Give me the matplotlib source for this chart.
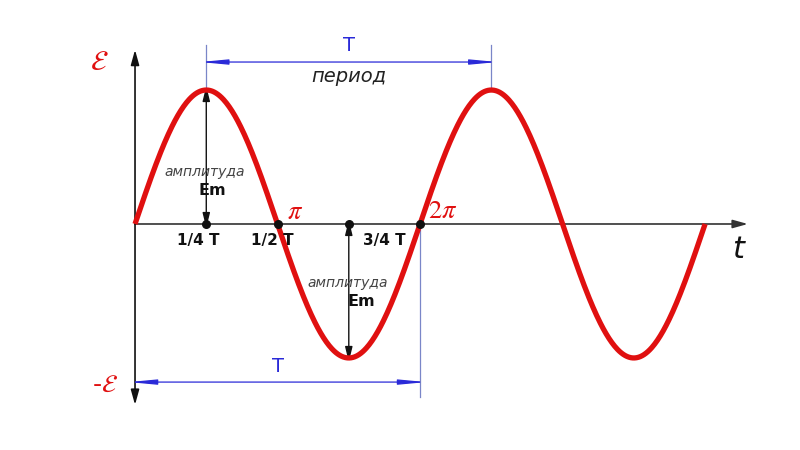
import numpy as np
import matplotlib
matplotlib.use("Agg")
import matplotlib.pyplot as plt

plt.rcParams["mathtext.fontset"] = "stix"

# curve in units of the period T and of the amplitude Em
t_start, t_end = 0.0, 2.0
amplitude = 1.0
marks_t = [0.25, 0.5, 0.75, 1.0]
mark_labels = ["1/4 T", "1/2 T", "3/4 T"]

t = np.linspace(t_start, t_end, 600)
e = amplitude * np.sin(2 * np.pi * t)

fig = plt.figure(figsize=(8, 4.5), dpi=100)
ax = fig.add_axes([0, 0, 1, 1])
ax.set_xlim(-0.4737, 2.333)
ax.set_ylim(-1.687, 1.672)
ax.axis("off")

red = "#e01010"
blue = "#2a2ad8"
lblue = "#7a86c8"
pad = 0.022  # arrow tips land a little short, push them out

# axes with arrows
ax.annotate("", xy=(2.15, 0), xytext=(0, 0),
            arrowprops=dict(arrowstyle="-|>,head_length=0.9,head_width=0.25",
                            color="#333333", lw=1.2, shrinkA=0, shrinkB=0))
ax.annotate("", xy=(0, 1.30), xytext=(0, 0),
            arrowprops=dict(arrowstyle="-|>,head_length=0.9,head_width=0.25",
                            color="#111111", lw=1.2, shrinkA=0, shrinkB=0))
ax.annotate("", xy=(0, -1.35), xytext=(0, 0),
            arrowprops=dict(arrowstyle="-|>,head_length=0.9,head_width=0.25",
                            color="#111111", lw=1.2, shrinkA=0, shrinkB=0))

# period dimension on top
ax.plot([0.25, 0.25], [1.0, 1.336], color=lblue, lw=0.9)
ax.plot([1.25, 1.25], [1.0, 1.336], color=lblue, lw=0.9)
ax.annotate("", xy=(0.25 - pad, 1.209), xytext=(1.25 + pad, 1.209),
            arrowprops=dict(arrowstyle="<|-|>,head_length=1.6,head_width=0.15",
                            color=blue, lw=0.9, shrinkA=0, shrinkB=0))
ax.text(0.75, 1.33, "T", color=blue, fontsize=14, ha="center", va="center")
ax.text(0.75, 1.10, "период", color="#222222", fontsize=14, style="italic",
        ha="center", va="center")

# period dimension at bottom
ax.plot([1.0, 1.0], [0, -1.29], color=lblue, lw=0.9)
ax.annotate("", xy=(-pad, -1.18), xytext=(1.0 + pad, -1.18),
            arrowprops=dict(arrowstyle="<|-|>,head_length=1.6,head_width=0.15",
                            color=blue, lw=0.9, shrinkA=0, shrinkB=0))
ax.text(0.5, -1.06, "T", color=blue, fontsize=14, ha="center", va="center")

# amplitude arrows
ax.annotate("", xy=(0.25, 1.03), xytext=(0.25, -0.03),
            arrowprops=dict(arrowstyle="<|-|>,head_length=0.9,head_width=0.22",
                            color="#111111", lw=1.0, shrinkA=0, shrinkB=0))
ax.annotate("", xy=(0.75, -1.03), xytext=(0.75, 0.03),
            arrowprops=dict(arrowstyle="<|-|>,head_length=0.9,head_width=0.22",
                            color="#111111", lw=1.0, shrinkA=0, shrinkB=0))

# sine curve
ax.plot(t, e, color=red, lw=3.8, solid_capstyle="butt", zorder=3)

# dots on the axis
ax.scatter(marks_t, [0] * len(marks_t), s=30, color="#111111", zorder=4)

# labels
ax.text(0.245, 0.39, "амплитуда", color="#444444", fontsize=10, style="italic",
        ha="center", va="center")
ax.text(0.27, 0.25, "Em", color="#111111", fontsize=11.5, weight="bold",
        ha="center", va="center")
ax.text(0.745, -0.44, "амплитуда", color="#444444", fontsize=10, style="italic",
        ha="center", va="center")
ax.text(0.795, -0.575, "Em", color="#111111", fontsize=11.5, weight="bold",
        ha="center", va="center")

ax.text(0.222, -0.12, mark_labels[0], fontsize=11, weight="bold",
        ha="center", va="center", color="#111111")
ax.text(0.482, -0.12, mark_labels[1], fontsize=11, weight="bold",
        ha="center", va="center", color="#111111")
ax.text(0.875, -0.12, mark_labels[2], fontsize=11, weight="bold",
        ha="center", va="center", color="#111111")

ax.text(0.56, 0.09, r"$\pi$", color=red, fontsize=19, ha="center", va="center")
ax.text(1.08, 0.10, r"$2\pi$", color=red, fontsize=19, ha="center", va="center")

ax.text(-0.125, 1.21, r"$\mathcal{E}$", color=red, fontsize=20,
        ha="center", va="center")
ax.text(-0.105, -1.20, r"-$\mathcal{E}$", color=red, fontsize=18,
        ha="center", va="center")
ax.text(2.115, -0.19, "t", color="#111111", fontsize=22, style="italic",
        ha="center", va="center")

fig.savefig("out.png", dpi=100, facecolor="white")
